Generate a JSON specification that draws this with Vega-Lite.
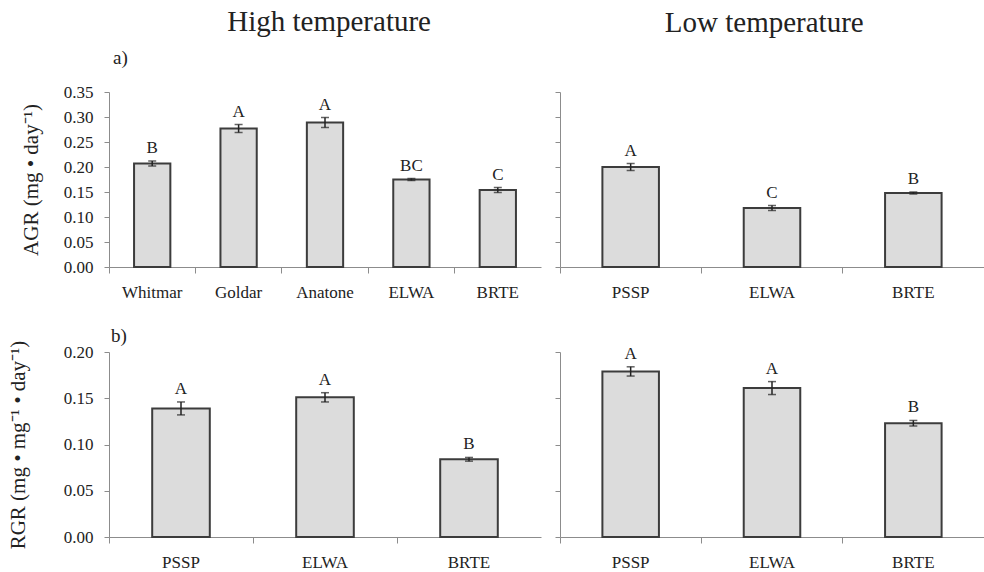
{
  "$schema": "https://vega.github.io/schema/vega-lite/v6.json",
  "background": "white",
  "padding": {"left": 7, "top": 8, "right": 0, "bottom": 0},
  "config": {
    "font": "Liberation Serif",
    "view": {"stroke": null},
    "axis": {"domainColor": "#8c8c8c", "tickColor": "#8c8c8c", "labelColor": "#222222", "titleColor": "#222222", "labelFont": "Liberation Serif", "titleFont": "Liberation Serif", "labelFontSize": 17, "titleFontSize": 21, "titleFontWeight": "normal", "grid": false, "tickSize": 5, "domainWidth": 1, "labelOverlap": false},
    "style": {
      "guide-label": {"font": "Liberation Serif", "fontSize": 17, "fill": "#222222"},
      "guide-title": {"font": "Liberation Serif", "fontSize": 21, "fontWeight": "normal", "fill": "#222222"}
    },
    "title": {"font": "Liberation Serif", "fontWeight": "normal", "color": "#222222"},
    "text": {"font": "Liberation Serif"}
  },
  "datasets": {
    "agrHigh": [
      {"species": "Whitmar", "value": 0.207, "lo": 0.202, "hi": 0.212, "letter": "B"},
      {"species": "Goldar", "value": 0.277, "lo": 0.269, "hi": 0.285, "letter": "A"},
      {"species": "Anatone", "value": 0.289, "lo": 0.279, "hi": 0.299, "letter": "A"},
      {"species": "ELWA", "value": 0.175, "lo": 0.173, "hi": 0.177, "letter": "BC"},
      {"species": "BRTE", "value": 0.154, "lo": 0.149, "hi": 0.159, "letter": "C"}
    ],
    "agrLow": [
      {"species": "PSSP", "value": 0.200, "lo": 0.193, "hi": 0.207, "letter": "A"},
      {"species": "ELWA", "value": 0.118, "lo": 0.113, "hi": 0.123, "letter": "C"},
      {"species": "BRTE", "value": 0.148, "lo": 0.146, "hi": 0.150, "letter": "B"}
    ],
    "rgrHigh": [
      {"species": "PSSP", "value": 0.139, "lo": 0.132, "hi": 0.146, "letter": "A"},
      {"species": "ELWA", "value": 0.151, "lo": 0.146, "hi": 0.156, "letter": "A"},
      {"species": "BRTE", "value": 0.084, "lo": 0.082, "hi": 0.086, "letter": "B"}
    ],
    "rgrLow": [
      {"species": "PSSP", "value": 0.179, "lo": 0.174, "hi": 0.184, "letter": "A"},
      {"species": "ELWA", "value": 0.161, "lo": 0.154, "hi": 0.168, "letter": "A"},
      {"species": "BRTE", "value": 0.123, "lo": 0.120, "hi": 0.126, "letter": "B"}
    ]
  },
  "spacing": 13,
  "hconcat": [
    {
      "title": {"text": "High temperature", "fontSize": 29, "anchor": "middle", "dx": 55, "offset": 12},
      "spacing": 27,
      "vconcat": [
        {
          "title": {"text": "a)", "fontSize": 19, "anchor": "start", "frame": "group", "dx": 4, "offset": 15},
          "width": 432, "height": 175,
          "data": {"name": "agrHigh"},
          "encoding": {
            "x": {"field": "species", "type": "nominal", "sort": null, "scale": {"paddingInner": 0, "paddingOuter": 0},
                  "axis": {"title": null, "labelAngle": 0, "bandPosition": 0, "tickSize": 6, "labelPadding": 11}}
          },
          "layer": [
            {"mark": {"type": "bar", "width": {"band": 0.42}, "fill": "#dcdcdc", "stroke": "#3c3c3c", "strokeWidth": 2},
             "encoding": {"y": {"field": "value", "type": "quantitative", "title": "AGR (mg • day⁻¹)", "scale": {"domain": [0, 0.35]},
               "axis": {"values": [0, 0.05, 0.1, 0.15, 0.2, 0.25, 0.3, 0.35], "format": ".2f", "labelPadding": 11, "titlePadding": 22}}}},
            {"mark": {"type": "errorbar", "ticks": {"size": 8, "color": "#222222"}, "color": "#222222", "thickness": 1.5},
             "encoding": {"y": {"field": "lo", "type": "quantitative", "title": "AGR (mg • day⁻¹)",
               "axis": {"values": [0, 0.05, 0.1, 0.15, 0.2, 0.25, 0.3, 0.35], "format": ".2f", "labelPadding": 11, "titlePadding": 22}}, "y2": {"field": "hi"}}},
            {"mark": {"type": "text", "baseline": "alphabetic", "dy": -8, "fontSize": 17, "color": "#222222"},
             "encoding": {"y": {"field": "hi", "type": "quantitative", "title": "AGR (mg • day⁻¹)",
               "axis": {"values": [0, 0.05, 0.1, 0.15, 0.2, 0.25, 0.3, 0.35], "format": ".2f", "labelPadding": 11, "titlePadding": 22}}, "text": {"field": "letter"}}}
          ]
        },
        {
          "title": {"text": "b)", "fontSize": 19, "anchor": "start", "frame": "group", "dx": 2, "offset": -6},
          "width": 432, "height": 185,
          "data": {"name": "rgrHigh"},
          "encoding": {
            "x": {"field": "species", "type": "nominal", "sort": null, "scale": {"paddingInner": 0, "paddingOuter": 0},
                  "axis": {"title": null, "labelAngle": 0, "bandPosition": 0, "tickSize": 6, "labelPadding": 11}}
          },
          "layer": [
            {"mark": {"type": "bar", "width": {"band": 0.4}, "fill": "#dcdcdc", "stroke": "#3c3c3c", "strokeWidth": 2},
             "encoding": {"y": {"field": "value", "type": "quantitative", "title": "RGR (mg • mg⁻¹ • day⁻¹)", "scale": {"domain": [0, 0.2]},
               "axis": {"values": [0, 0.05, 0.1, 0.15, 0.2], "format": ".2f", "labelPadding": 11, "titlePadding": 35}}}},
            {"mark": {"type": "errorbar", "ticks": {"size": 8, "color": "#222222"}, "color": "#222222", "thickness": 1.5},
             "encoding": {"y": {"field": "lo", "type": "quantitative", "title": "RGR (mg • mg⁻¹ • day⁻¹)",
               "axis": {"values": [0, 0.05, 0.1, 0.15, 0.2], "format": ".2f", "labelPadding": 11, "titlePadding": 35}}, "y2": {"field": "hi"}}},
            {"mark": {"type": "text", "baseline": "alphabetic", "dy": -8, "fontSize": 17, "color": "#222222"},
             "encoding": {"y": {"field": "hi", "type": "quantitative", "title": "RGR (mg • mg⁻¹ • day⁻¹)",
               "axis": {"values": [0, 0.05, 0.1, 0.15, 0.2], "format": ".2f", "labelPadding": 11, "titlePadding": 35}}, "text": {"field": "letter"}}}
          ]
        }
      ]
    },
    {
      "title": {"text": "Low temperature", "fontSize": 29, "anchor": "middle", "dx": -5, "offset": 12},
      "spacing": 31,
      "vconcat": [
        {
          "title": {"text": "a)", "color": "rgba(0,0,0,0)", "fontSize": 19, "anchor": "start", "frame": "group", "offset": 23},
          "width": 424, "height": 175,
          "data": {"name": "agrLow"},
          "encoding": {
            "x": {"field": "species", "type": "nominal", "sort": null, "scale": {"paddingInner": 0, "paddingOuter": 0},
                  "axis": {"title": null, "labelAngle": 0, "bandPosition": 0, "tickSize": 6, "labelPadding": 11}}
          },
          "layer": [
            {"mark": {"type": "bar", "width": {"band": 0.4}, "fill": "#dcdcdc", "stroke": "#3c3c3c", "strokeWidth": 2},
             "encoding": {"y": {"field": "value", "type": "quantitative", "title": null, "scale": {"domain": [0, 0.35]},
               "axis": {"values": [0, 0.05, 0.1, 0.15, 0.2, 0.25, 0.3, 0.35], "labels": false}}}},
            {"mark": {"type": "errorbar", "ticks": {"size": 8, "color": "#222222"}, "color": "#222222", "thickness": 1.5},
             "encoding": {"y": {"field": "lo", "type": "quantitative", "title": null,
               "axis": {"values": [0, 0.05, 0.1, 0.15, 0.2, 0.25, 0.3, 0.35], "labels": false}}, "y2": {"field": "hi"}}},
            {"mark": {"type": "text", "baseline": "alphabetic", "dy": -8, "fontSize": 17, "color": "#222222"},
             "encoding": {"y": {"field": "hi", "type": "quantitative", "title": null,
               "axis": {"values": [0, 0.05, 0.1, 0.15, 0.2, 0.25, 0.3, 0.35], "labels": false}}, "text": {"field": "letter"}}}
          ]
        },
        {
          "title": {"text": "b)", "color": "rgba(0,0,0,0)", "fontSize": 19, "anchor": "start", "frame": "group", "offset": -6},
          "width": 424, "height": 185,
          "data": {"name": "rgrLow"},
          "encoding": {
            "x": {"field": "species", "type": "nominal", "sort": null, "scale": {"paddingInner": 0, "paddingOuter": 0},
                  "axis": {"title": null, "labelAngle": 0, "bandPosition": 0, "tickSize": 6, "labelPadding": 11}}
          },
          "layer": [
            {"mark": {"type": "bar", "width": {"band": 0.4}, "fill": "#dcdcdc", "stroke": "#3c3c3c", "strokeWidth": 2},
             "encoding": {"y": {"field": "value", "type": "quantitative", "title": null, "scale": {"domain": [0, 0.2]},
               "axis": {"values": [0, 0.05, 0.1, 0.15, 0.2], "labels": false}}}},
            {"mark": {"type": "errorbar", "ticks": {"size": 8, "color": "#222222"}, "color": "#222222", "thickness": 1.5},
             "encoding": {"y": {"field": "lo", "type": "quantitative", "title": null,
               "axis": {"values": [0, 0.05, 0.1, 0.15, 0.2], "labels": false}}, "y2": {"field": "hi"}}},
            {"mark": {"type": "text", "baseline": "alphabetic", "dy": -8, "fontSize": 17, "color": "#222222"},
             "encoding": {"y": {"field": "hi", "type": "quantitative", "title": null,
               "axis": {"values": [0, 0.05, 0.1, 0.15, 0.2], "labels": false}}, "text": {"field": "letter"}}}
          ]
        }
      ]
    }
  ]
}
